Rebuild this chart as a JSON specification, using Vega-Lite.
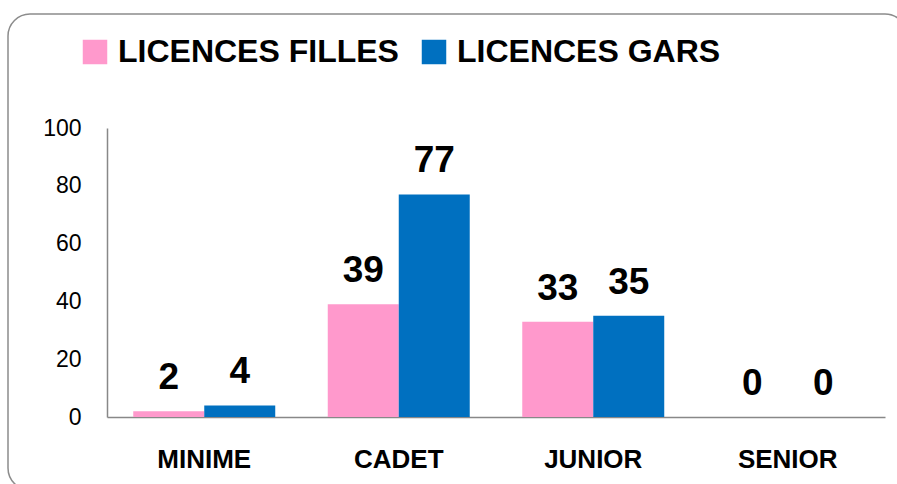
{
  "$schema": "https://vega.github.io/schema/vega-lite/v6.json",
  "width": 899,
  "height": 476,
  "autosize": "none",
  "padding": {"left": 8, "top": 14, "right": -10, "bottom": -6},
  "background": "white",
  "config": {
    "view": {"stroke": "#8c8c8c", "strokeWidth": 1.5, "cornerRadius": 22},
    "font": "Liberation Sans"
  },
  "data": {
    "values": [
      {"cat": "MINIME", "serie": "LICENCES FILLES", "value": 2},
      {"cat": "MINIME", "serie": "LICENCES GARS", "value": 4},
      {"cat": "CADET", "serie": "LICENCES FILLES", "value": 39},
      {"cat": "CADET", "serie": "LICENCES GARS", "value": 77},
      {"cat": "JUNIOR", "serie": "LICENCES FILLES", "value": 33},
      {"cat": "JUNIOR", "serie": "LICENCES GARS", "value": 35},
      {"cat": "SENIOR", "serie": "LICENCES FILLES", "value": 0},
      {"cat": "SENIOR", "serie": "LICENCES GARS", "value": 0}
    ]
  },
  "encoding": {
    "x": {
      "field": "cat",
      "type": "nominal",
      "sort": ["MINIME", "CADET", "JUNIOR", "SENIOR"],
      "scale": {"range": [99, 877], "paddingInner": 0.27, "paddingOuter": 0.135},
      "axis": {
        "title": null,
        "offset": -73,
        "ticks": false,
        "labelAngle": 0,
        "labelPadding": 29,
        "labelFontSize": 26,
        "labelFontWeight": "bold",
        "labelColor": "#000000",
        "domainColor": "#888888",
        "domainWidth": 1.5
      }
    },
    "xOffset": {"field": "serie", "sort": ["LICENCES FILLES", "LICENCES GARS"]},
    "y": {
      "field": "value",
      "type": "quantitative",
      "scale": {"domain": [0, 100], "range": [403, 114], "nice": false},
      "axis": {
        "title": null,
        "offset": -99,
        "values": [0, 20, 40, 60, 80, 100],
        "grid": false,
        "ticks": false,
        "labelPadding": 26,
        "labelFontSize": 23,
        "labelColor": "#000000",
        "domainColor": "#888888",
        "domainWidth": 1.5
      }
    }
  },
  "layer": [
    {
      "mark": {"type": "bar"},
      "encoding": {
        "color": {
          "field": "serie",
          "type": "nominal",
          "scale": {"domain": ["LICENCES FILLES", "LICENCES GARS"], "range": ["#FF99CC", "#0070C0"]},
          "legend": {
            "title": null,
            "orient": "none",
            "direction": "horizontal",
            "legendX": 71,
            "legendY": 22,
            "symbolType": "square",
            "symbolSize": 600,
            "symbolStrokeWidth": 0,
            "labelFontSize": 32,
            "labelFontWeight": "bold",
            "labelColor": "#000000",
            "labelLimit": 0,
            "labelOffset": 7,
            "columnPadding": 19
          }
        }
      }
    },
    {
      "mark": {"type": "text", "fontSize": 37, "fontWeight": "bold", "baseline": "alphabetic", "dy": -22, "color": "#000000"},
      "encoding": {
        "text": {"field": "value", "type": "quantitative"}
      }
    }
  ]
}
